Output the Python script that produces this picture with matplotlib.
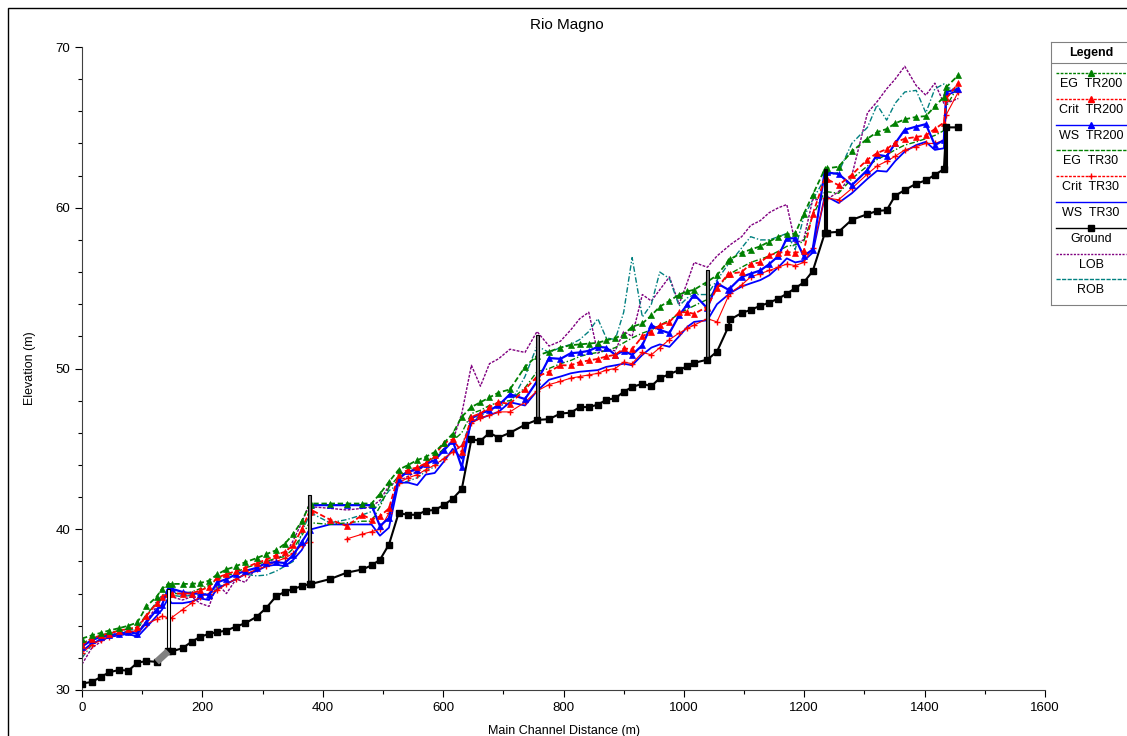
import matplotlib
matplotlib.use("Agg")
import matplotlib.pyplot as plt
import numpy as np
from matplotlib.patches import Rectangle

nan = np.nan

station = [0, 16, 31, 45, 62, 77, 92, 107, 124, 133, 143,
           149, 167, 182, 196, 211, 225, 240, 256, 271, 290, 306, 323, 337, 351, 365,
           378, 381, 412, 440, 466, 481, 495, 510,
           526, 542, 557, 571, 586, 601, 616, 631,
           647, 662, 677, 692, 711, 736, 756,
           776, 795, 812, 827, 842, 857, 871, 886, 900, 914, 931,
           946, 960, 976, 992, 1006, 1017, 1039,
           1055, 1074, 1077, 1096, 1111, 1127, 1142, 1157, 1171, 1185, 1199, 1214,
           1234, 1237, 1257, 1279, 1305, 1321, 1337, 1351, 1367, 1386, 1402, 1417, 1432, 1436, 1456]

ground = [30.4, 30.5, 30.8, 31.1, 31.25, 31.2, 31.7, 31.8, 31.75, nan, 32.4,
          32.4, 32.6, 33.0, 33.3, 33.5, 33.6, 33.7, 33.95, 34.15, 34.55, 35.1, 35.85, 36.1, 36.3, 36.45,
          36.6, 36.6, 36.9, 37.3, 37.5, 37.75, 38.1, 39.05,
          41.0, 40.9, 40.9, 41.15, 41.2, 41.5, 41.9, 42.5,
          45.6, 45.5, 46.0, 45.7, 46.0, 46.5, 46.8,
          46.85, 47.2, 47.25, 47.6, 47.6, 47.75, 48.05, 48.15, 48.55, 48.85, 49.05,
          48.9, 49.4, 49.65, 49.9, 50.15, 50.35, 50.55,
          51.05, 52.6, 53.05, 53.45, 53.65, 53.9, 54.1, 54.35, 54.65, 55.0, 55.35, 56.05,
          58.4, 58.45, 58.5, 59.25, 59.6, 59.8, 59.85, 60.75, 61.1, 61.5, 61.7, 62.05, 62.4, 65.0, 65.0]

eg_tr200 = [33.2, 33.4, 33.55, 33.7, 33.85, 34.0, 34.2, 35.2, 35.8, 36.3, 36.6,
            36.6, 36.6, 36.6, 36.65, 36.8, 37.2, 37.5, 37.7, 37.95, 38.2, 38.45, 38.7, 39.1, 39.7, 40.5,
            41.5, 41.6, 41.6, 41.6, 41.6, 41.6, 42.2, 42.95,
            43.7, 44.0, 44.3, 44.5, 44.8, 45.35, 45.95, 47.0,
            47.6, 47.9, 48.2, 48.5, 48.7, 50.1, 50.8,
            51.05, 51.3, 51.45, 51.5, 51.55, 51.6, 51.75, 51.9, 52.1, 52.6, 52.8,
            53.3, 53.85, 54.2, 54.6, 54.8, 54.9, 55.4,
            55.8, 56.7, 56.8, 57.2, 57.4, 57.6, 57.9, 58.2, 58.35, 58.4, 59.6, 60.8,
            62.4, 62.45, 62.55, 63.5, 64.3, 64.7, 64.9, 65.25, 65.5, 65.65, 65.7, 66.3, 66.9, 67.5, 68.25]

crit_tr200 = [32.8, 33.2, 33.4, 33.5, 33.7, 33.8, 33.9, 34.6, 35.4, 35.8, 36.0,
              36.0, 36.0, 36.0, 36.2, 36.4, 37.0, 37.2, 37.4, 37.6, 37.9, 38.1, 38.4, 38.6, 39.0, 40.0,
              41.1, 41.2, 40.6, 40.2, 40.9, 40.6, 40.8, 41.3,
              43.4, 43.7, 43.85, 44.1, 44.6, 45.35, 45.6, 44.8,
              47.0, 47.2, 47.6, 47.9, 47.8, 48.7, 49.5,
              49.8, 50.2, 50.2, 50.4, 50.5, 50.6, 50.75, 50.85, 51.25, 51.2, 52.0,
              52.3, 52.7, 52.9, 53.5, 53.5, 53.4, 53.85,
              55.0, 55.9, 55.9, 56.0, 56.5, 56.6, 57.05, 57.2, 57.25, 57.2, 57.3, 59.6,
              61.8, 61.8, 61.4, 62.05, 63.0, 63.4, 63.65, 64.05, 64.3, 64.4, 64.5, 64.9, 65.3, 66.8, 67.75]

ws_tr200 = [32.7, 33.1, 33.3, 33.4, 33.5, 33.6, 33.5, 34.2, 35.0, 35.3, 36.3,
            36.3, 36.1, 36.0, 36.0, 35.9, 36.7, 36.9, 37.2, 37.4, 37.6, 37.9, 37.95, 37.9, 38.4, 39.2,
            39.95, 41.5, 41.5, 41.5, 41.5, 41.5, 40.2, 40.7,
            43.15, 43.6, 43.7, 44.05, 44.3, 44.9, 45.5, 43.85,
            46.9, 47.2, 47.4, 47.7, 48.4, 48.1, 49.2,
            50.65, 50.6, 50.95, 51.0, 51.1, 51.35, 51.3, 50.85, 51.1, 50.85, 51.45,
            52.7, 52.4, 52.2, 53.3, 54.0, 54.6, 53.75,
            55.3, 54.9, 55.0, 55.7, 55.9, 56.1, 56.5, 57.0, 58.1, 58.1, 57.0, 57.4,
            62.25, 62.2, 62.1, 61.4, 62.35, 63.3, 63.2, 64.0, 64.85, 65.05, 65.2, 63.9, 64.2, 67.2, 67.4]

eg_tr30 = [32.9, 33.2, 33.4, 33.55, 33.7, 33.8, 33.9, 34.7, 35.4, 35.8, 36.0,
           36.0, 36.0, 36.1, 36.3, 36.5, 36.9, 37.1, 37.3, 37.6, 37.8, 38.0, 38.2, 38.3, 38.8, 39.6,
           40.4, 40.4, 40.3, 40.4, 40.5, 40.5, 41.4, 42.6,
           43.3, 43.6, 43.8, 44.1, 44.5, 45.0, 45.5, 46.0,
           47.2, 47.4, 47.7, 47.9, 48.0, 48.8, 49.8,
           50.0, 50.3, 50.5, 50.75, 50.9, 51.0, 51.1, 51.3, 51.6, 51.9, 52.2,
           52.4, 52.7, 53.0, 53.4, 53.7, 53.9, 54.3,
           55.0, 55.8, 55.9, 56.3, 56.6, 56.8, 57.0, 57.3, 57.6, 57.7, 57.9, 59.5,
           61.0, 61.0, 60.9, 61.8, 62.6, 63.0, 63.3, 63.6, 63.9, 64.1, 64.3, 64.5, 64.8, 66.3, 67.6]

crit_tr30 = [32.3, 32.8, 33.1, 33.3, 33.5, 33.6, 33.7, 34.1, 34.4, 34.6, 34.5,
             34.5, 35.0, 35.4, 35.8, 36.0, 36.2, 36.6, 36.9, 37.2, 37.5, 37.7, 38.0, 38.2, 38.5, 39.0,
             39.2, nan, nan, 39.4, 39.7, 39.85, 40.0, 41.0,
             42.9, 43.2, 43.4, 43.7, 44.0, 44.4, 44.8, 45.2,
             46.6, 46.9, 47.1, 47.3, 47.3, 47.9, 48.6,
             49.0, 49.2, 49.4, 49.5, 49.6, 49.7, 49.9, 50.0, 50.4, 50.3, 51.0,
             50.85, 51.3, 51.8, 52.2, 52.5, 52.7, 53.1,
             52.9, 54.5, 54.7, 55.2, 55.7, 55.9, 56.1, 56.3, 56.5, 56.4, 56.6, 57.5,
             60.6, 60.6, 60.5, 61.2, 62.1, 62.6, 62.9, 63.2, 63.6, 63.8, 64.0, 64.0, 64.2, 65.8, 67.2]

ws_tr30 = [32.4, 32.9, 33.1, 33.3, 33.4, 33.5, 33.3, 33.9, 34.6, 35.0, 35.7,
           35.4, 35.4, 35.5, 35.7, 35.6, 36.3, 36.6, 36.9, 37.2, 37.4, 37.7, 37.8, 37.7, 38.1, 38.7,
           39.6, 40.0, 40.3, 40.3, 40.3, 40.3, 39.6, 40.1,
           42.9, 42.9, 42.75, 43.4, 43.5, 44.2, 45.0, 44.4,
           46.7, 46.9, 47.1, 47.3, 47.9, 47.7, 48.6,
           49.3, 49.5, 49.7, 49.8, 49.85, 49.9, 50.1, 50.2, 50.3, 50.2, 50.85,
           51.3, 51.5, 51.35, 52.0, 52.6, 52.9, 53.0,
           54.0, 54.6, 54.7, 55.1, 55.3, 55.5, 55.8, 56.3, 56.85, 56.6, 56.7, 57.2,
           60.7, 60.7, 60.3, 60.9, 61.8, 62.3, 62.25, 62.9, 63.5, 63.9, 64.1, 63.6, 63.7, 67.0, 67.3]

lob = [31.6, 32.6, 33.0, 33.3, 33.5, 33.6, 33.6, 34.3, 35.2, 35.7, 36.0,
       35.8, 35.6, 35.8, 35.4, 35.2, 36.6, 36.0, 36.9, 36.7, 37.6, 37.9, 38.2, 38.4, 39.3, 40.4,
       41.6, 41.4, 41.3, 41.2, 41.3, 41.4, 41.8, 42.7,
       43.0, 43.3, 43.6, 44.0, 44.4, 45.0, 45.5, 47.2,
       50.2, 48.9, 50.3, 50.6, 51.2, 51.0, 52.3,
       51.4, 51.7, 52.4, 53.1, 53.5, 50.95, 51.2, 51.1, 52.3, 52.0, 54.6,
       54.2, 54.9, 55.7, 54.0, 55.4, 56.6, 56.3,
       57.0, 57.6, 57.7, 58.2, 58.9, 59.2, 59.7, 60.0, 60.2, 57.8, 58.0, 60.5,
       60.5, 60.5, 61.0, 62.0, 65.9, 66.6, 67.4, 68.0, 68.8, 67.6, 67.0, 67.75, 66.5, 66.5, 66.8]

rob = [32.0, 32.8, 33.2, 33.4, 33.55, 33.7, 33.8, 34.6, 35.5, 35.9, 36.1,
       35.9, 35.8, 35.9, 35.9, 36.0, 36.4, 36.6, 36.9, 37.2, 37.1, 37.15, 37.4, 37.7, 38.0, 39.8,
       40.9, 41.0, 40.4, 40.6, 40.9, 41.1, 41.6, 42.4,
       42.8, 43.0, 43.2, 43.6, 43.9, 44.4, 44.8, 45.2,
       46.8, 47.0, 47.5, 47.7, 47.8, 49.5, 51.4,
       51.0, 51.3, 51.5, 51.8, 52.3, 53.1, 51.9, 51.8, 53.5, 56.9, 53.2,
       54.0, 56.0, 55.6, 53.9, 54.4, 54.6, 54.6,
       55.5, 56.5, 56.6, 57.5, 58.2, 58.0, 58.0, 58.2, 58.4, 57.4, 59.4, 60.5,
       61.8, 62.0, 62.2, 64.0, 65.0, 66.4, 65.45, 66.5, 67.2, 67.3, 65.9, 67.4, 67.7, 67.5, 67.3]

# bridges / culverts
bridge_sta = [143, 378, 757, 1039, 1235, 1435]
bridge_low = [32.4, 36.6, 46.8, 50.55, 58.45, 62.4]
bridge_high = [36.3, 42.1, 52.1, 56.1, 62.4, 65.0]
bridge_face = ["white", "#808080", "#808080", "#808080", "black", "black"]
culvert_sta = [124, 143]

GREEN = "#008000"
RED = "#ff0000"
BLUE = "#0000ff"
PURPLE = "#800080"
TEAL = "#008080"

plt.rcParams["font.family"] = ["Liberation Sans", "DejaVu Sans"]

fig = plt.figure(figsize=(11.27, 7.36), dpi=100)
W, H = 1127.0, 736.0
ax = fig.add_axes([82 / W, 1 - 690 / H, (1045 - 82) / W, (690 - 47) / H])

x = np.array(station, dtype=float)

# series: (values, color, linestyle, lw, marker, ms)
series = [
    (lob, PURPLE, (0, (2, 1)), 1.0, None, 0),
    (rob, TEAL, (0, (4, 1.5, 1, 1.5)), 1.0, None, 0),
    (ws_tr30, BLUE, "-", 1.3, None, 0),
    (crit_tr30, RED, "-", 0.8, "+", 5),
    (eg_tr30, GREEN, (0, (4, 1.5, 1, 1.5)), 1.0, None, 0),
    (ws_tr200, BLUE, "-", 1.6, "^", 4.5),
    (crit_tr200, RED, (0, (3, 1.5)), 1.3, "^", 5),
    (eg_tr200, GREEN, (0, (3, 1.5)), 1.3, "^", 4.5),
]
for vals, col, ls, lw, mk, ms in series:
    ax.plot(x, vals, color=col, linestyle=ls, linewidth=lw, marker=mk,
            markersize=ms, markeredgewidth=1.0 if mk == "+" else 0.5)

# bridges
for s, lo, hi, fc in zip(bridge_sta, bridge_low, bridge_high, bridge_face):
    ax.bar(s, hi - lo, bottom=lo, width=5, color=fc, edgecolor="black",
           linewidth=0.8, zorder=3)

# ground
g = np.array(ground)
ax.plot(x, g, color="black", lw=1.5, marker="s", ms=5, zorder=4)
cg = np.interp(culvert_sta, x[~np.isnan(g)], g[~np.isnan(g)])
ax.plot(culvert_sta, cg, color="#808080", lw=5, solid_capstyle="butt", zorder=4)

ax.set_xlim(0, 1600)
ax.set_ylim(30, 70)
ax.set_xticks(np.arange(0, 1601, 200))
ax.set_xticks(np.arange(0, 1601, 100), minor=True)
ax.set_yticks(np.arange(30, 71, 10))
ax.set_yticks(np.arange(30, 71, 2), minor=True)
ax.tick_params(which="both", direction="out", labelsize=9.5, width=0.8)
ax.tick_params(which="major", length=5)
ax.tick_params(which="minor", length=3)
ax.spines["top"].set_visible(False)
ax.spines["right"].set_visible(False)
ax.spines["left"].set_color("#404040")
ax.spines["bottom"].set_color("#404040")
ax.set_xlabel("Main Channel Distance (m)", fontsize=9, labelpad=8)
ax.set_ylabel("Elevation (m)", fontsize=9, labelpad=14)
fig.text(567 / W, 1 - 25 / H, "Rio Magno", ha="center", va="center", fontsize=11)

# figure frame
fig.patches.append(Rectangle((8 / W, -0.01), 1.1, 1 - 8 / H + 0.01, transform=fig.transFigure,
                             fill=False, edgecolor="black", linewidth=1.0))

# legend box drawn by hand
lg = fig.add_axes([1051 / W, 1 - 305 / H, 80 / W, 263 / H])
lg.set_xlim(0, 80)
lg.set_ylim(263, 0)
lg.set_xticks([])
lg.set_yticks([])
for sp in lg.spines.values():
    sp.set_color("#808080")
lg.text(40, 11, "Legend", ha="center", va="center", fontsize=9, fontweight="bold")
lg.axhline(21, color="#808080", lw=0.8)
legend_items = [
    ("EG  TR200", GREEN, (0, (2, 1)), "^"),
    ("Crit  TR200", RED, (0, (2, 1)), "^"),
    ("WS  TR200", BLUE, "-", "^"),
    ("EG  TR30", GREEN, (0, (3, 1)), None),
    ("Crit  TR30", RED, (0, (2, 1)), "+"),
    ("WS  TR30", BLUE, "-", None),
    ("Ground", "black", "-", "s"),
    ("LOB", PURPLE, (0, (1.5, 1)), None),
    ("ROB", TEAL, (0, (3, 1)), None),
]
for i, (lab, col, ls, mk) in enumerate(legend_items):
    yl = 31 + i * 25.8
    lg.plot([5, 75], [yl, yl], color=col, linestyle=ls, lw=1.0)
    if mk:
        lg.plot([40], [yl], color=col, marker=mk, ms=4, markeredgewidth=1.0)
    lg.text(40, yl + 11, lab, ha="center", va="center", fontsize=9)

fig.savefig("out.png", dpi=100)
